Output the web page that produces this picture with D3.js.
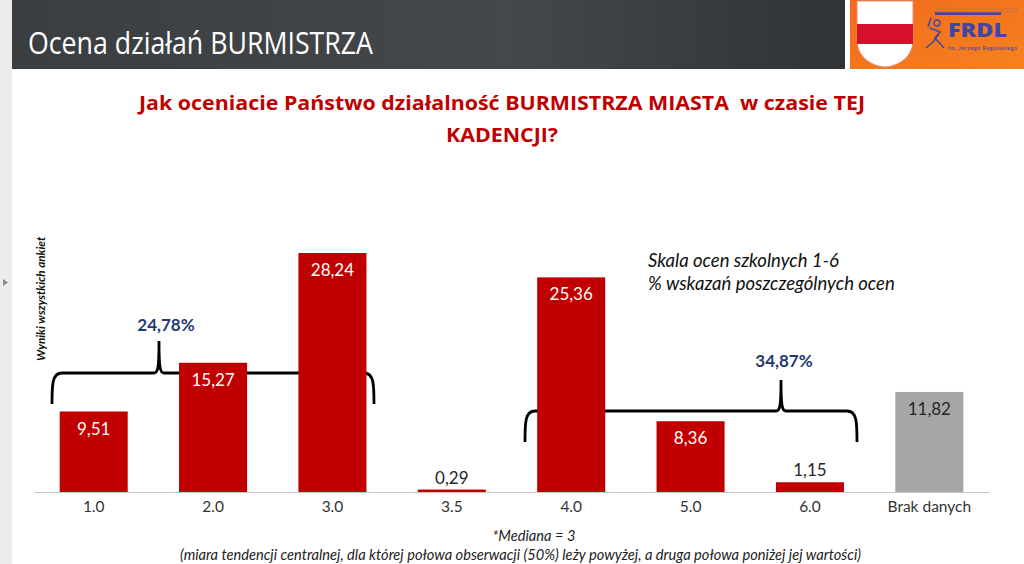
<!DOCTYPE html>
<html><head><meta charset="utf-8">
<script src="https://cdn.jsdelivr.net/npm/d3@7"></script>
<style>html,body{margin:0;padding:0;background:#fff}svg{display:block}text{font-family:Lato,"Open Sans",sans-serif}</style>
</head><body><svg id="c" width="1024" height="564"></svg>
<script>
const categories=["1.0","2.0","3.0","3.5","4.0","5.0","6.0","Brak danych"];
const values=[9.51,15.27,28.24,0.29,25.36,8.36,1.15,11.82];
const valueLabels=["9,51","15,27","28,24","0,29","25,36","8,36","1,15","11,82"];
const noDataCategory="Brak danych";
const insideThreshold=5;
const titleLines=["Jak oceniacie Państwo działalność BURMISTRZA MIASTA  w czasie TEJ","KADENCJI?"];
const noteLines=["Skala ocen szkolnych 1-6","% wskazań poszczególnych ocen"];
const footLines=["*Mediana = 3","(miara tendencji centralnej, dla której połowa obserwacji (50%) leży powyżej, a druga połowa poniżej jej wartości)"];
const groups=[{label:"24,78%",from:"1.0",to:"3.0"},{label:"34,87%",from:"4.0",to:"6.0"}];

const svg=d3.select("#c");
const defs=svg.append("defs");
const g1=defs.append("linearGradient").attr("id","hdr").attr("x1",0).attr("x2",1).attr("y1",0).attr("y2",0);
g1.append("stop").attr("offset",0).attr("stop-color","#3b3e41");
g1.append("stop").attr("offset",.6).attr("stop-color","#45484b");
g1.append("stop").attr("offset",1).attr("stop-color","#303336");
const g2=defs.append("linearGradient").attr("id","org").attr("x1",0).attr("x2",1).attr("y1",0).attr("y2",1);
g2.append("stop").attr("offset",0).attr("stop-color","#f26a1b");
g2.append("stop").attr("offset",1).attr("stop-color","#f5821f");

// page furniture
svg.append("rect").attr("x",0).attr("y",0).attr("width",12).attr("height",564).attr("fill","#ececec");
svg.append("path").attr("d","M3 279l5 3.5l-5 3.5z").attr("fill","#8a8a8a");
svg.append("rect").attr("x",12).attr("y",0).attr("width",833).attr("height",69).attr("fill","url(#hdr)");
svg.append("text").attr("x",28).attr("y",54).attr("font-size",31).attr("fill","#fff").attr("textLength",345).attr("lengthAdjust","spacingAndGlyphs").style("font-family","'Open Sans',sans-serif").style("font-weight",400).text("Ocena działań BURMISTRZA");

// logo
svg.append("rect").attr("x",850).attr("y",0).attr("width",174).attr("height",69).attr("fill","url(#org)");
svg.append("path").attr("d","M857 1H913V40C913 56 900 66 885 67C870 66 857 56 857 40Z").attr("fill","#fff").attr("stroke","#e58a7a");
svg.append("rect").attr("x",857).attr("y",24).attr("width",56).attr("height",20).attr("fill","#d8102c");
svg.append("rect").attr("x",935).attr("y",12).attr("width",66).attr("height",3).attr("fill","#3f46a8");
svg.append("rect").attr("x",937).attr("y",9).attr("width",80).attr("height",3).attr("fill","none").attr("stroke","#b9705a").attr("stroke-width",.7);
svg.append("path").attr("d","M928 27L931 18M930 28L940 32L933 42L926 48M940 32L935 38L944 48")
  .attr("fill","none").attr("stroke","#3f46a8").attr("stroke-width",1.6);
svg.append("circle").attr("cx",937).attr("cy",23).attr("r",3).attr("fill","none").attr("stroke","#3f46a8").attr("stroke-width",1.3);
svg.append("text").attr("x",948).attr("y",37).attr("font-size",18.5).attr("font-weight",800).attr("fill","#3f46a8").attr("textLength",59).attr("lengthAdjust","spacingAndGlyphs").style("font-family","'Open Sans',sans-serif").text("FRDL");
svg.append("text").attr("x",948).attr("y",50).attr("font-size",5.5).attr("font-weight",700).attr("fill","#5b4a9a").attr("textLength",69).text("im. Jerzego Regulskiego");

// title
svg.selectAll("text.t").data(titleLines).join("text").attr("class","t")
  .attr("x",502).attr("y",(d,i)=>[110,142][i]).attr("text-anchor","middle")
  .attr("font-size",20).attr("font-weight",700).attr("fill","#c00000")
  .attr("textLength",(d,i)=>[726,112][i]).attr("lengthAdjust","spacingAndGlyphs")
  .style("font-family","'Open Sans',sans-serif").style("white-space","pre").text(d=>d);

// scales
const x=d3.scaleBand().domain(categories).range([34,989]).paddingInner(.43).paddingOuter(.215);
const y=d3.scaleLinear().domain([0,28.24]).range([492,253]);

// brackets drawn beneath bars
function brace(l,r,yTop,yBot,tip,tipY){
  return `M${l} ${yBot}C${l} ${yTop+12} ${l} ${yTop} ${l+10} ${yTop}L${tip-5} ${yTop}C${tip-1} ${yTop} ${tip} ${yTop-5} ${tip} ${tipY}`+
         `C${tip} ${yTop-5} ${tip+1} ${yTop} ${tip+5} ${yTop}L${r-10} ${yTop}C${r} ${yTop} ${r} ${yTop+12} ${r} ${yBot}`;
}
const braceGeom=[{l:52,r:374,t:373,b:404,tip:159,tipY:341,lx:166,ly:331},{l:525,r:857,t:411,b:442,tip:781,tipY:380,lx:784,ly:367}];
svg.selectAll("path.b").data(groups).join("path").attr("class","b")
  .attr("d",(d,i)=>{const g=braceGeom[i];return brace(g.l,g.r,g.t,g.b,g.tip,g.tipY);})
  .attr("fill","none").attr("stroke","#000").attr("stroke-width",2.8);
svg.selectAll("text.g").data(groups).join("text").attr("class","g")
  .attr("x",(d,i)=>braceGeom[i].lx).attr("y",(d,i)=>braceGeom[i].ly).attr("text-anchor","middle")
  .attr("font-size",17).attr("font-weight",700).attr("fill","#1f3a73").text(d=>d.label);

// bars
svg.selectAll("rect.bar").data(categories).join("rect").attr("class","bar")
  .attr("x",d=>x(d)).attr("width",x.bandwidth())
  .attr("y",(d,i)=>y(values[i])).attr("height",(d,i)=>y(0)-y(values[i]))
  .attr("fill",d=>d===noDataCategory?"#a6a6a6":"#c00000");

// axis
const ax=svg.append("g").attr("transform","translate(0,492)").call(d3.axisBottom(x).tickSize(0).tickPadding(9));
ax.select(".domain").attr("stroke","#c8c8c8").attr("stroke-width",1.2);
ax.selectAll("text").attr("font-size",15.5).attr("fill","#333").style("font-family","Lato,sans-serif");

// value labels
svg.selectAll("text.v").data(categories).join("text").attr("class","v")
  .attr("x",d=>x(d)+x.bandwidth()/2)
  .attr("y",(d,i)=>values[i]<insideThreshold?y(values[i])-6:y(values[i])+23)
  .attr("text-anchor","middle").attr("font-size",17)
  .attr("fill",(d,i)=>(values[i]<insideThreshold||d===noDataCategory)?"#262626":"#fff")
  .text((d,i)=>valueLabels[i]);

// y label
svg.append("text").attr("transform","translate(45,361) rotate(-90)").attr("font-size",11.7).attr("font-weight",700).attr("font-style","italic").attr("fill","#111").text("Wyniki wszystkich ankiet");

// notes
svg.selectAll("text.n").data(noteLines).join("text").attr("class","n")
  .attr("x",648).attr("y",(d,i)=>267+i*23).attr("font-size",18.5).attr("font-style","italic").attr("fill","#111").text(d=>d);
svg.selectAll("text.f").data(footLines).join("text").attr("class","f")
  .attr("x",(d,i)=>i?520.5:534).attr("y",(d,i)=>541+i*19).attr("text-anchor","middle")
  .attr("font-size",14.65).attr("font-style","italic").attr("fill","#222").text(d=>d);
</script></body></html>
